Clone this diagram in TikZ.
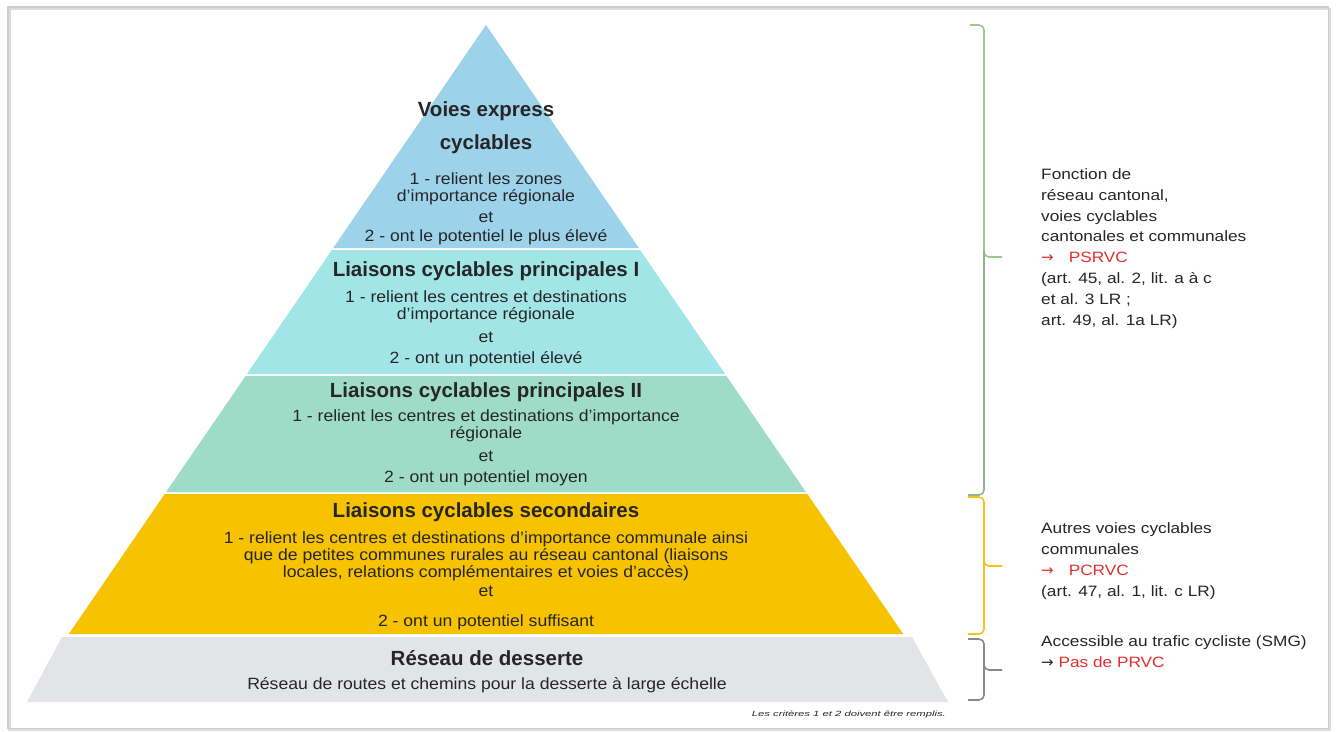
\documentclass[tikz,border=0pt]{standalone}
\usepackage{fontspec}
\setmainfont{Liberation Sans}
\newfontfamily\bodyf[FakeStretch=1.08]{Liberation Sans}
\newfontfamily\sidef[FakeStretch=1.15]{Liberation Sans}
\newfontfamily\notef[FakeStretch=1.5]{Liberation Sans}
\newfontfamily\symf{DejaVu Sans}
\newcommand{\rarr}{{\symf →}}
\definecolor{cblue}{HTML}{9DD2EB}
\definecolor{cteal}{HTML}{A2E5E6}
\definecolor{cmint}{HTML}{9FDCC8}
\definecolor{cyel}{HTML}{F7C200}
\definecolor{cgray}{HTML}{E2E4E7}
\definecolor{txt}{HTML}{262626}
\definecolor{cred}{HTML}{E0302E}
\definecolor{bgreen}{HTML}{9CCB8E}
\definecolor{byel}{HTML}{F0C419}
\definecolor{bgray}{HTML}{8A8A8A}
\definecolor{framec}{HTML}{CDCDCD}
\begin{document}
\begin{tikzpicture}[x=1pt,y=-1pt,
  ttl/.style={font=\bfseries\fontsize{20.5}{24}\selectfont, text=txt, inner sep=0, anchor=base},
  bdy/.style={font=\bodyf\fontsize{16.3}{17.5}\selectfont, text=txt, inner sep=0, anchor=base},
  side/.style={font=\sidef\fontsize{15}{20.8}\selectfont, text=txt, inner sep=0, align=left, anchor=base west},
  brace/.style={line width=1.6pt, rounded corners=5pt},
]
\useasboundingbox (0,0) rectangle (1336,731);
\fill[white] (0,0) rectangle (1336,731);
% frame
\draw[framec!70, line width=2.5pt] (9.5,9) rectangle (1330,730);
\draw[framec, line width=1.2pt] (8,7) rectangle (1328.5,728.5);

% pyramid bands
\fill[cblue] (486,25) -- (638.8,248) -- (333.2,248) -- cycle;
\fill[cteal] (331.9,250) -- (640.1,250) -- (725.1,374) -- (246.9,374) -- cycle;
\fill[cmint] (245.6,376) -- (726.4,376) -- (805.9,492) -- (166.1,492) -- cycle;
\fill[cyel] (164.7,494) -- (807.3,494) -- (903.2,634) -- (68.8,634) -- cycle;
\fill[cgray] (62,637) -- (912,637) -- (948,702) -- (27,702) -- cycle;

% band 1
\node[ttl] (t1a) at (486,116) {Voies express};
\node[ttl] (t1b) at (486,149) {cyclables};
\node[bdy] (b1a) at (486,184) {1 - relient les zones};
\node[bdy] (b1b) at (486,201) {d’importance régionale};
\node[bdy] (b1c) at (486,222) {et};
\node[bdy] (b1d) at (486,241) {2 - ont le potentiel le plus élevé};
% band 2
\node[ttl] (t2) at (486,276) {Liaisons cyclables principales I};
\node[bdy] (b2a) at (486,302) {1 - relient les centres et destinations};
\node[bdy] (b2b) at (486,319) {d’importance régionale};
\node[bdy] (b2c) at (486,342) {et};
\node[bdy] (b2d) at (486,363) {2 - ont un potentiel élevé};
% band 3
\node[ttl] (t3) at (486,397) {Liaisons cyclables principales II};
\node[bdy] (b3a) at (486,421) {1 - relient les centres et destinations d’importance};
\node[bdy] (b3b) at (486,438) {régionale};
\node[bdy] (b3c) at (486,461) {et};
\node[bdy] (b3d) at (486,482) {2 - ont un potentiel moyen};
% band 4
\node[ttl] (t4) at (486,517) {Liaisons cyclables secondaires};
\node[bdy] (b4a) at (486,543) {1 - relient les centres et destinations d’importance communale ainsi};
\node[bdy] (b4b) at (486,560) {que de petites communes rurales au réseau cantonal (liaisons};
\node[bdy] (b4c) at (486,577) {locales, relations complémentaires et voies d’accès)};
\node[bdy] (b4d) at (486,596) {et};
\node[bdy] (b4e) at (486,626) {2 - ont un potentiel suffisant};
% band 5
\node[ttl] (t5) at (487,665) {Réseau de desserte};
\node[bdy] (b5a) at (487,689) {Réseau de routes et chemins pour la desserte à large échelle};
% footnote
\node[font=\notef\itshape\fontsize{7.5}{8}\selectfont, text=txt, inner sep=0, anchor=base east] (fn) at (946,716) {Les critères 1 et 2 doivent être remplis.};

% braces
\coordinate (g1) at (970,25);
\coordinate (g2) at (1002,257);
\coordinate (g3) at (968,495);
\draw[brace, bgreen] (g1) -- (984,25) -- (984,257) -- (g2);
\draw[brace, bgreen!70!gray] (984,250) -- (984,495) -- (g3);
\coordinate (y1) at (968,497);
\coordinate (y2) at (1002,566);
\coordinate (y3) at (968,634);
\draw[brace, byel] (y1) -- (984,497) -- (984,566) -- (y2);
\draw[brace, byel] (984,560) -- (984,634) -- (y3);
\coordinate (r1) at (968,639);
\coordinate (r2) at (1002,670);
\coordinate (r3) at (968,700);
\draw[brace, bgray] (r1) -- (984,639) -- (984,670) -- (r2);
\draw[brace, bgray] (984,665) -- (984,700) -- (r3);

% side texts (base anchor = last line baseline)
\node[side] (s1) at (1041,325) {Fonction de\\réseau cantonal,\\voies cyclables\\cantonales et communales\\\textcolor{cred}{\rarr\quad PSRVC}\\(art. 45, al. 2, lit. a à c\\et al. 3 LR ;\\art. 49, al. 1a LR)};
\node[side] (s2) at (1041,596) {Autres voies cyclables\\communales\\\textcolor{cred}{\rarr\quad PCRVC}\\(art. 47, al. 1, lit. c LR)};
\node[side] (s3) at (1041,667) {Accessible au trafic cycliste (SMG)\\\rarr\ \textcolor{cred}{Pas de PRVC}};
\end{tikzpicture}
\end{document}
